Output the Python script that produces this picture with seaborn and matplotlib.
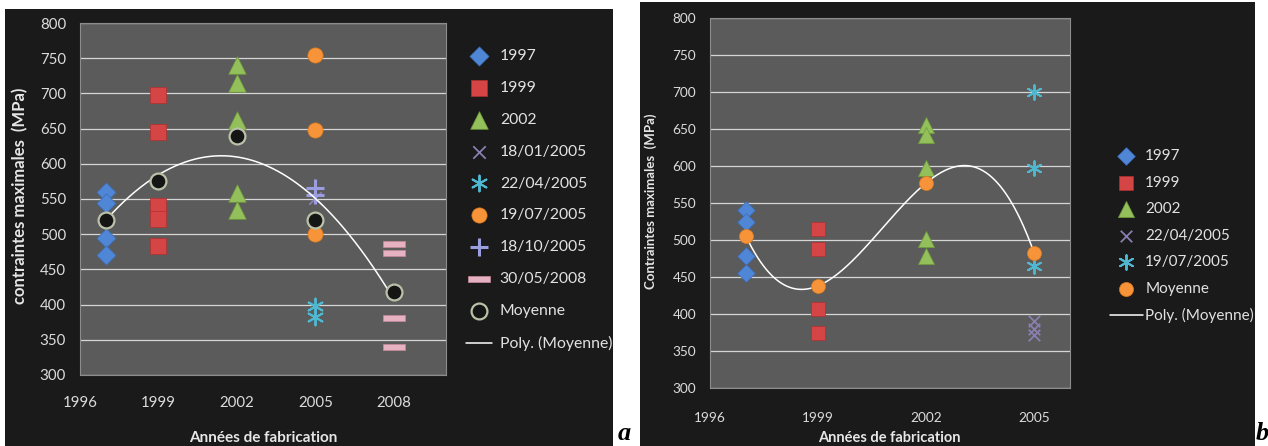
import numpy as np
import pandas as pd
import seaborn as sns
import matplotlib.pyplot as plt
from matplotlib.patches import Rectangle

### Figure size in pixels
W, H = 1268, 446

## Panel a values (MPa), one list per series
a_1997 = [560, 545, 495, 470]
a_1999 = [698, 645, 540, 522, 483]
a_2002 = [740, 715, 662, 558, 535]
a_18_01_2005 = [552, 505]
a_22_04_2005 = [398, 383]
a_19_07_2005 = [755, 648, 500]
a_18_10_2005 = [566, 556]
a_30_05_2008 = [486, 473, 381, 340]
a_moy_years = [1997, 1999, 2002, 2005, 2008]
a_moy = [520, 575, 640, 520, 418]

## Panel b values (MPa)
b_1997 = [540, 525, 478, 455]
b_1999 = [515, 488, 407, 375]
b_2002 = [655, 642, 597, 502, 478]
b_22_04_2005 = [390, 380, 372]
b_19_07_2005 = [700, 597, 465]
b_moy_years = [1997, 1999, 2002, 2005]
b_moy = [505, 438, 577, 483]

a_xticks = [1996, 1999, 2002, 2005, 2008]
b_xticks = [1996, 1999, 2002, 2005]
yticks = list(range(300, 801, 50))

## Marker styles
minus = [(-1, -0.3), (1, -0.3), (1, 0.3), (-1, 0.3), (-1, -0.3)]
asterisk = (6, 2, 0)
STY = {
    'diamond': dict(marker='D', color='#4f86d6', edgecolor='#3b6cb8', s=95, linewidth=0.5),
    'square': dict(marker='s', color='#d64545', edgecolor='#b03030', s=120, linewidth=0.5),
    'triangle': dict(marker='^', color='#93c05a', edgecolor='#6f9a3a', s=160, linewidth=0.5),
    'x': dict(marker='x', color='#8a7fb0', s=80, linewidth=1.3),
    'ast': dict(marker=asterisk, color='#4fb8d0', s=130, linewidth=1.4),
    'orange': dict(marker='o', color='#f7943a', edgecolor='#d97a20', s=120, linewidth=0.5),
    'plus': dict(marker='+', color='#9a9ee0', s=160, linewidth=2.2),
    'minus': dict(marker=minus, color='#e6b2c2', edgecolor='#c88a9c', s=230, linewidth=0.5),
    'moy': dict(marker='o', color='#151515', edgecolor='#b9c2a8', s=130, linewidth=1.6),
}

sns.set_theme(style='dark')
plt.rcParams['font.family'] = ['Lato', 'DejaVu Sans']

fig = plt.figure(figsize=(W / 100, H / 100), dpi=100)
fig.patch.set_facecolor('white')


def fx(x):
    return x / W


def fy(y):
    return 1 - y / H


## Black chart backgrounds
fig.patches.append(Rectangle((fx(5), 0), fx(608), 1 - 9 / H, transform=fig.transFigure,
                             facecolor='#1a1a1a', edgecolor='none', zorder=-10))
fig.patches.append(Rectangle((fx(640), 0), fx(615), 1 - 2 / H, transform=fig.transFigure,
                             facecolor='#1a1a1a', edgecolor='none', zorder=-10))


def draw_panel(ax, series, moy_years, moy, moy_style, deg, xlim, xticks, tick_fs, ms, xpad):
    ax.set_facecolor('#5b5b5b')
    for label, year, vals, key in series:
        st = dict(STY[key])
        st['s'] = st['s'] * ms
        sns.scatterplot(x=[year] * len(vals), y=vals, ax=ax, label=label, zorder=3, **st)
    ## Polynomial trend of the mean values
    coef = np.polyfit(moy_years, moy, deg)
    xs = np.linspace(min(moy_years), max(moy_years), 300)
    sns.lineplot(x=xs, y=np.polyval(coef, xs), ax=ax, color='white', linewidth=1.1,
                 label='Poly. (Moyenne)', zorder=4)
    st = dict(STY[moy_style])
    st['s'] = st['s'] * ms
    sns.scatterplot(x=moy_years, y=moy, ax=ax, label='Moyenne', zorder=5, **st)

    ax.set_xlim(*xlim)
    ax.set_ylim(300, 800)
    ax.set_xticks(xticks)
    ax.set_yticks(yticks)
    ax.grid(axis='y', color='#d6d6d6', linewidth=0.9)
    ax.grid(axis='x', visible=False)
    ax.set_axisbelow(True)
    for sp in ax.spines.values():
        sp.set_color('#8c8c8c')
        sp.set_linewidth(0.8)
    ax.tick_params(length=0, colors='#dcdcdc', labelsize=tick_fs)
    ax.tick_params(axis='x', pad=xpad)
    ax.tick_params(axis='y', pad=10)
    ax.set_xlabel('')
    ax.set_ylabel('')


## Panel a
ax1 = fig.add_axes([fx(80), fy(375), fx(366), 352 / H])
series_a = [('1997', 1997, a_1997, 'diamond'),
            ('1999', 1999, a_1999, 'square'),
            ('2002', 2002, a_2002, 'triangle'),
            ('18/01/2005', 2005, a_18_01_2005, 'x'),
            ('22/04/2005', 2005, a_22_04_2005, 'ast'),
            ('19/07/2005', 2005, a_19_07_2005, 'orange'),
            ('18/10/2005', 2005, a_18_10_2005, 'plus'),
            ('30/05/2008', 2008, a_30_05_2008, 'minus')]
draw_panel(ax1, series_a, a_moy_years, a_moy, 'moy', 2, (1996, 2010), a_xticks, 10.8, 1.0, 15)

## Panel b
ax2 = fig.add_axes([fx(710), fy(388), fx(360), 370 / H])
series_b = [('1997', 1997, b_1997, 'diamond'),
            ('1999', 1999, b_1999, 'square'),
            ('2002', 2002, b_2002, 'triangle'),
            ('22/04/2005', 2005, b_22_04_2005, 'x'),
            ('19/07/2005', 2005, b_19_07_2005, 'ast')]
draw_panel(ax2, series_b, b_moy_years, b_moy, 'orange', 3, (1996, 2006), b_xticks, 9.8, 0.85, 17)


def make_legend(ax, x, y, fs, spacing, hlen, tpad):
    handles, labels = ax.get_legend_handles_labels()
    i = labels.index('Poly. (Moyenne)')
    handles.append(handles.pop(i))
    labels.append(labels.pop(i))
    ax.legend(handles, labels, loc='upper left', bbox_to_anchor=(fx(x), fy(y)),
              bbox_transform=fig.transFigure, frameon=False, fontsize=fs,
              labelcolor='#e2e2e2', labelspacing=spacing, handlelength=hlen,
              handletextpad=tpad, borderpad=0, borderaxespad=0)


make_legend(ax1, 466, 49, 11.3, 1.14, 1.65, 0.5)
make_legend(ax2, 1110, 149, 11, 0.82, 2.15, 0.15)

## Axis titles
fig.text(fx(20), fy(196), 'contraintes maximales  (MPa)', rotation=90, ha='center', va='center',
         color='#e6e6e6', fontsize=12, fontweight='bold')
fig.text(fx(651), fy(201), 'Contraintes maximales  (MPa)', rotation=90, ha='center', va='center',
         color='#e6e6e6', fontsize=9.5, fontweight='bold')
fig.text(fx(263), fy(438), 'Années de fabrication', ha='center', va='center',
         color='#e6e6e6', fontsize=11, fontweight='bold')
fig.text(fx(889), fy(438), 'Années de fabrication', ha='center', va='center',
         color='#e6e6e6', fontsize=10.5, fontweight='bold')

## Panel letters
fig.text(fx(624), fy(434), 'a', ha='center', va='center', fontsize=19,
         family='Liberation Serif', fontweight='bold', style='italic', color='black')
fig.text(fx(1262), fy(434), 'b', ha='center', va='center', fontsize=19,
         family='Liberation Serif', fontweight='bold', style='italic', color='black')

fig.savefig('out.png', dpi=100)
